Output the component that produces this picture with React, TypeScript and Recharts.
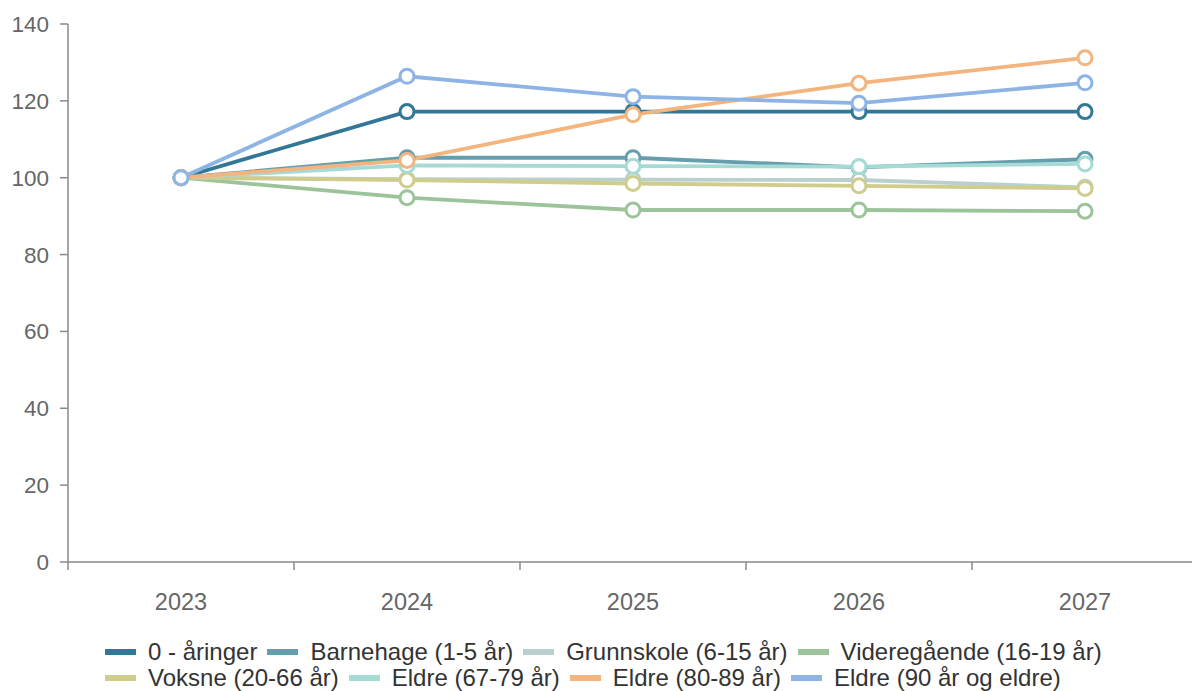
import { Line, LineChart, XAxis, YAxis } from "recharts";

const years = [2023, 2024, 2025, 2026, 2027];
const yTicks = [0, 20, 40, 60, 80, 100, 120, 140];
const bandEdges = [2022.5, 2023.5, 2024.5, 2025.5, 2026.5, 2027.5];

const aaringer = [100, 117.2, 117.2, 117.2, 117.2];
const barnehage = [100, 105.2, 105.2, 102.7, 104.8];
const grunnskole = [100, 99.6, 99.5, 99.4, 97.5];
const videregaende = [100, 94.8, 91.6, 91.6, 91.3];
const voksne = [100, 99.4, 98.5, 97.9, 97.2];
const eldre6779 = [100, 103.2, 103.0, 102.9, 103.6];
const eldre8089 = [100, 104.5, 116.4, 124.6, 131.2];
const eldre90 = [100, 126.4, 121.1, 119.4, 124.7];

const series = [
  { key: "a0", name: "0 - åringer", color: "#327896", values: aaringer },
  { key: "bh", name: "Barnehage (1-5 år)", color: "#659ead", values: barnehage },
  { key: "gs", name: "Grunnskole (6-15 år)", color: "#b9d0cf", values: grunnskole },
  { key: "vg", name: "Videregående (16-19 år)", color: "#9dc39b", values: videregaende },
  { key: "vo", name: "Voksne (20-66 år)", color: "#cfcc8c", values: voksne },
  { key: "e1", name: "Eldre (67-79 år)", color: "#a6dbd5", values: eldre6779 },
  { key: "e2", name: "Eldre (80-89 år)", color: "#f3b47d", values: eldre8089 },
  { key: "e3", name: "Eldre (90 år og eldre)", color: "#8db4e4", values: eldre90 },
];

const data = years.map((year, i) => {
  const row: Record<string, number> = { year };
  series.forEach((s) => {
    row[s.key] = s.values[i];
  });
  return row;
});

const font = "'Liberation Sans', Arial, sans-serif";
const axisColor = "#8a8a8a";

export default function App() {
  return (
    <div
      style={{
        position: "absolute",
        left: 0,
        top: 0,
        width: 1192,
        height: 691,
        overflow: "hidden",
        background: "#fff",
        fontFamily: font,
      }}
    >
      <LineChart
        width={1200}
        height={691}
        data={data}
        margin={{ top: 24, right: 2, left: 0, bottom: 68 }}
      >
        <XAxis
          xAxisId="grid"
          type="number"
          dataKey="year"
          domain={[2022.5, 2027.5]}
          ticks={bandEdges}
          tickFormatter={() => ""}
          tickSize={8}
          height={1}
          stroke={axisColor}
          strokeWidth={1.5}
          allowDataOverflow
        />
        <XAxis
          xAxisId="labels"
          type="number"
          dataKey="year"
          domain={[2022.5, 2027.5]}
          ticks={years}
          axisLine={false}
          tickLine={false}
          tickSize={6}
          tickMargin={24}
          height={60}
          tick={{ fontSize: 23.5, fill: "#666", fontFamily: font }}
          allowDataOverflow
        />
        <YAxis
          domain={[0, 140]}
          ticks={yTicks}
          width={68}
          tickSize={8}
          tickMargin={11}
          stroke={axisColor}
          strokeWidth={1.5}
          tick={{ fontSize: 22.5, fill: "#666", fontFamily: font }}
        />
        {series.map((s) => (
          <Line
            key={s.key}
            xAxisId="grid"
            dataKey={s.key}
            name={s.name}
            stroke={s.color}
            strokeWidth={3.8}
            dot={{ r: 7, fill: "#fff", stroke: s.color, strokeWidth: 3 }}
            isAnimationActive={false}
          />
        ))}
      </LineChart>
      <div
        style={{
          position: "absolute",
          left: 105,
          top: 639,
          width: 1030,
          display: "flex",
          flexWrap: "wrap",
          fontSize: 24,
          lineHeight: "26px",
          color: "#333",
        }}
      >
        {series.map((s) => (
          <div key={s.key} style={{ display: "flex", alignItems: "center", marginRight: 10 }}>
            <span
              style={{
                display: "inline-block",
                width: 31,
                height: 6,
                background: s.color,
                marginRight: 12,
              }}
            />
            <span>{s.name}</span>
          </div>
        ))}
      </div>
    </div>
  );
}
